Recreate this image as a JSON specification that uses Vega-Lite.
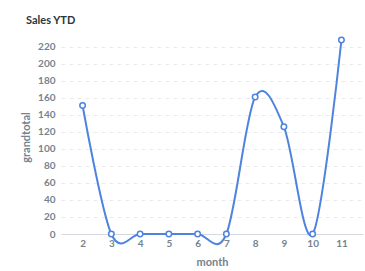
{
  "$schema": "https://vega.github.io/schema/vega-lite/v6.json",
  "autosize": "none",
  "width": 302,
  "height": 194,
  "padding": {"left": 61, "top": 40, "right": 2, "bottom": 37},
  "background": "white",
  "title": {"text": "Sales YTD", "anchor": "start", "frame": "group", "dx": -35, "offset": 8, "font": "Lato", "fontSize": 11, "fontWeight": "bold", "color": "#2e353b"},
  "config": {"view": {"stroke": null}, "font": "Lato"},
  "data": {"values": [
    {"month": 2, "grandtotal": 151},
    {"month": 3, "grandtotal": 0},
    {"month": 4, "grandtotal": 0},
    {"month": 5, "grandtotal": 0},
    {"month": 6, "grandtotal": 0},
    {"month": 7, "grandtotal": 0},
    {"month": 8, "grandtotal": 161},
    {"month": 9, "grandtotal": 126},
    {"month": 10, "grandtotal": 0},
    {"month": 11, "grandtotal": 228}
  ]},
  "encoding": {
    "x": {"field": "month", "type": "ordinal", "scale": {"type": "point", "padding": 0.75},
      "axis": {"labelAngle": 0, "title": "month", "titleFont": "Lato", "titleFontSize": 11, "titleFontWeight": "bold", "titleColor": "#74838f", "labelColor": "#74838f", "labelFontSize": 10, "labelFontWeight": "bold", "labelFont": "Lato", "ticks": false, "labelPadding": 4, "domainColor": "#d6dade", "titlePadding": 8, "grid": false}},
    "y": {"field": "grandtotal", "type": "quantitative", "scale": {"domain": [0, 228], "nice": false},
      "axis": {"values": [0,20,40,60,80,100,120,140,160,180,200,220], "title": "grandtotal", "titleFont": "Lato", "titleFontSize": 11, "titleFontWeight": "bold", "titleColor": "#74838f", "labelColor": "#74838f", "labelFontSize": 10, "labelFontWeight": "bold", "labelFont": "Lato", "ticks": false, "domain": false, "labelPadding": 6, "gridColor": "#e8ebed", "gridDash": [4, 4], "titlePadding": 6}}
  },
  "layer": [
    {"mark": {"type": "line", "interpolate": "cardinal", "tension": 0, "color": "#4e83de", "strokeWidth": 2}},
    {"mark": {"type": "point", "shape": "circle", "filled": true, "fill": "white", "stroke": "#4e83de", "strokeWidth": 1.5, "size": 30, "opacity": 1}}
  ]
}
